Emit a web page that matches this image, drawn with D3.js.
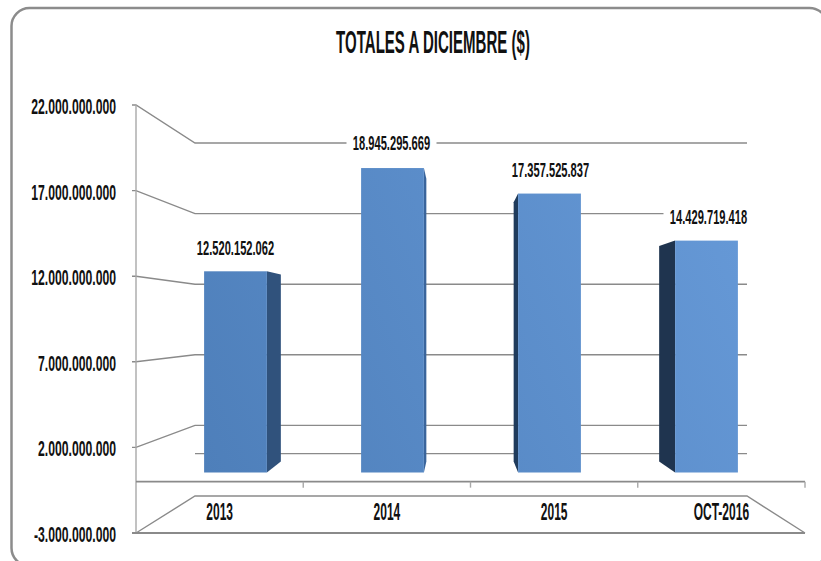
<!DOCTYPE html>
<html>
<head>
<meta charset="utf-8">
<style>
  html, body { margin: 0; padding: 0; background: #fff; overflow: hidden; }
  svg { display: block; }
  text { font-family: "Liberation Sans", Arial, sans-serif; font-weight: bold; fill: #111; }
</style>
<script src="https://cdn.jsdelivr.net/npm/d3@7"></script>
</head>
<body>
<div id="chart"></div>
<script>
// Data
const categories = ['2013', '2014', '2015', 'OCT-2016'];
const totals = [12520152062, 18945295669, 17357525837, 14429719418];
const totalLabels = ['12.520.152.062', '18.945.295.669', '17.357.525.837', '14.429.719.418'];
const tickValues = [22000000000, 17000000000, 12000000000, 7000000000, 2000000000, -3000000000];
const tickLabels = ['22.000.000.000', '17.000.000.000', '12.000.000.000', '7.000.000.000', '2.000.000.000', '-3.000.000.000'];

const width = 821, height = 561;
const domain = [-3000000000, 22000000000];
const gridColor = '#8a8a8a';

const svg = d3.select('#chart').append('svg')
    .attr('width', width)
    .attr('height', height);

// Fake 3D: one y scale and one x band for each depth plane
const yFront = d3.scaleLinear().domain(domain).range([533, 105]);
const yBack = d3.scaleLinear().domain(domain).range([496, 143]);
const yBarFront = d3.scaleLinear().domain([0, 1e9]).range([472.5, 456.43]);
const yBarBack = d3.scaleLinear().domain([0, 1e9]).range([461.5, 446.57]);

const xFloor = d3.scaleBand().domain(categories).range([136, 805]);
const xBarFront = d3.scaleBand().domain(categories).range([157, 785]).paddingInner(0.6).paddingOuter(0.3);
const xBarBack = d3.scaleBand().domain(categories).range([179, 761]).paddingInner(0.6).paddingOuter(0.3);

const backLeft = 195, backRight = 747;

// Narrow text: the original labels are squeezed horizontally
function putText(x, y, str, size, squeeze, anchor) {
    return svg.append('text')
        .attr('transform', `translate(${x},${y}) scale(${squeeze},1)`)
        .attr('text-anchor', anchor)
        .attr('dominant-baseline', 'central')
        .style('font-size', size + 'px')
        .text(str);
}

// Frame, it runs off the right and bottom of the picture
svg.append('rect')
    .attr('x', 11.5).attr('y', 8)
    .attr('width', 816).attr('height', 558)
    .attr('rx', 18)
    .attr('fill', '#fff')
    .attr('stroke', '#8c8c8c')
    .attr('stroke-width', 2.5);

putText(433, 42, 'TOTALES A DICIEMBRE ($)', 31, 0.485, 'middle');

// Walls: gridlines on the back wall with leaders towards the axis
const grid = svg.append('g').attr('fill', 'none').attr('stroke', gridColor).attr('stroke-width', 1.4);

tickValues.filter(v => v > domain[0]).forEach(v => {
    grid.append('path').attr('d', d3.line()([
        [132, yFront(v)], [xFloor.range()[0], yFront(v)], [backLeft, yBack(v)], [backRight, yBack(v)]
    ]));
});
grid.append('line')
    .attr('x1', backLeft).attr('x2', backRight)
    .attr('y1', yBack(0)).attr('y2', yBack(0));

// Vertical axis
grid.append('line')
    .attr('x1', 136).attr('x2', 136)
    .attr('y1', yFront(domain[1])).attr('y2', yFront(domain[0]))
    .attr('stroke', '#a8a8a8');

// Floor
grid.append('path')
    .attr('d', d3.line()([
        [805, yFront(domain[0])], [backRight, yBack(domain[0])],
        [backLeft, yBack(domain[0])], [136, yFront(domain[0])]
    ]));
grid.append('line')
    .attr('x1', 132).attr('x2', 805)
    .attr('y1', yFront(domain[0])).attr('y2', yFront(domain[0]))
    .attr('stroke-width', 2);
grid.append('line')
    .attr('x1', 136).attr('x2', 805)
    .attr('y1', yFront(0)).attr('y2', yFront(0))
    .attr('stroke-width', 1.8);
xFloor.domain().forEach(c => {
    const x = xFloor(c) + xFloor.bandwidth();
    grid.append('line')
        .attr('x1', x).attr('x2', x)
        .attr('y1', yFront(0)).attr('y2', yFront(0) + 6)
        .attr('stroke', '#a8a8a8');
});

// Bars
const defs = svg.append('defs');
const grad = defs.append('linearGradient')
    .attr('id', 'barFill')
    .attr('gradientUnits', 'userSpaceOnUse')
    .attr('x1', 204).attr('y1', 472).attr('x2', 738).attr('y2', 240);
grad.append('stop').attr('offset', 0).attr('stop-color', '#4e7fba');
grad.append('stop').attr('offset', 1).attr('stop-color', '#6598d6');

const sideColors = ['#30527c', '#3a659c', '#1f3b5c', '#1f344f'];
const bars = svg.append('g');

categories.forEach((c, i) => {
    const v = totals[i];
    const fx0 = xBarFront(c), fx1 = fx0 + xBarFront.bandwidth();
    const bx0 = xBarBack(c), bx1 = bx0 + xBarBack.bandwidth();
    // the side that shows depends on which side of the vanishing point the bar is
    const fEdge = i < 2 ? fx1 : fx0;
    const bEdge = i < 2 ? bx1 : bx0;

    bars.append('path')
        .attr('fill', sideColors[i])
        .attr('d', d3.line()([
            [fEdge, yBarFront(0)], [bEdge, yBarBack(0)], [bEdge, yBarBack(v)], [fEdge, yBarFront(v)]
        ]) + 'Z');

    bars.append('rect')
        .attr('x', fx0)
        .attr('y', yBarFront(v))
        .attr('width', fx1 - fx0)
        .attr('height', yBarFront(0) - yBarFront(v))
        .attr('fill', 'url(#barFill)');
});

// Value labels, white behind them so that they cut the gridlines
const labelOffsets = [23, 25, 23, 23];
const labelShift = [0, -1, 1, 2];
categories.forEach((c, i) => {
    const x = xBarFront(c) + xBarFront.bandwidth() / 2 + labelShift[i];
    const y = yBarFront(totals[i]) - labelOffsets[i];
    svg.append('rect')
        .attr('x', x - 45).attr('y', y - 10)
        .attr('width', 90).attr('height', 20)
        .attr('fill', '#fff');
    putText(x, y, totalLabels[i], 21, 0.53, 'middle');
});

// Axis labels
tickValues.forEach((v, i) => {
    putText(116, yFront(v) + 1.5, tickLabels[i], 22, 0.555, 'end');
});
categories.forEach(c => {
    putText(xFloor(c) + xFloor.bandwidth() / 2, 512, c, 24, 0.5, 'middle');
});
</script>
</body>
</html>
